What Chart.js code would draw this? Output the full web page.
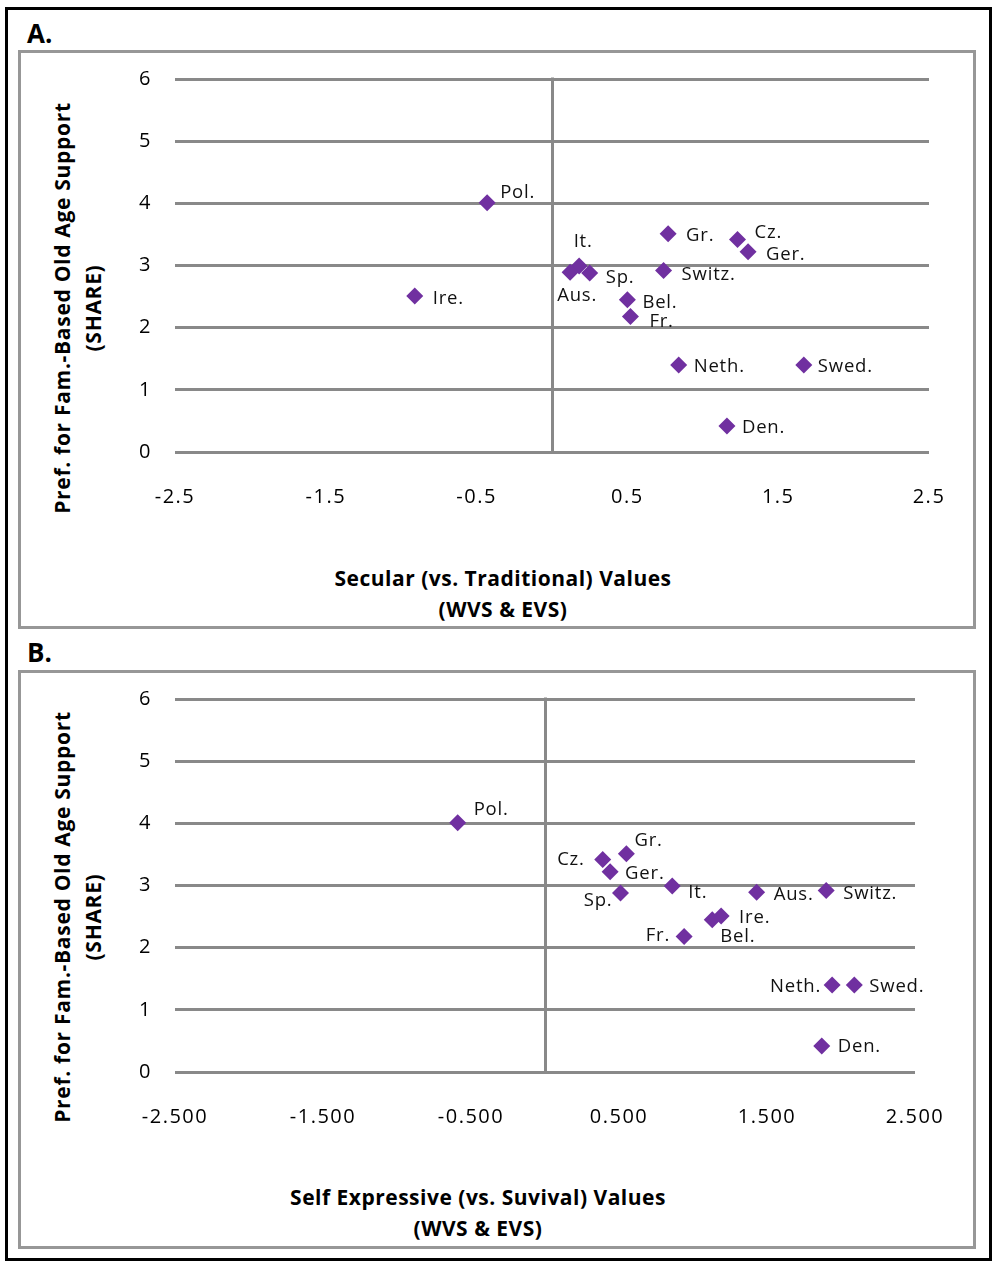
<!DOCTYPE html>
<html>
<head>
<meta charset="utf-8">
<script src="https://cdn.jsdelivr.net/npm/chart.js@4/dist/chart.umd.min.js"></script>
<style>
  html, body { margin: 0; padding: 0; background: #fff; }
  body { width: 993px; height: 1262px; position: relative; overflow: hidden; font-family: "Open Sans", sans-serif; color: #000; }
  .frame { position: absolute; left: 5px; top: 7px; width: 981px; height: 1248px; border: 3px solid #000; }
  .panel { position: absolute; left: 18px; width: 952px; height: 573px; border: 3px solid #979797; }
  .letter { position: absolute; left: 27px; font-size: 26px; line-height: 26px; font-weight: 700; }
  .xtitle { position: absolute; width: 440px; text-align: center; font-size: 21px; line-height: 31px; font-weight: 700; letter-spacing: 0.5px; white-space: nowrap; }
  .ytitle { position: absolute; left: -152.5px; width: 460px; height: 62px; text-align: center; font-size: 21px; line-height: 31px; font-weight: 700; letter-spacing: 0.7px; white-space: nowrap; transform: rotate(-90deg); transform-origin: 50% 50%; }
  canvas { position: absolute; left: 0; }
</style>
</head>
<body>
<div class="frame"></div>
<div class="letter" style="top:20px">A.</div>
<div class="panel" style="top:50px"></div>
<div class="letter" style="top:639px">B.</div>
<div class="panel" style="top:670px"></div>

<div class="ytitle" style="top:277px">Pref. for Fam.-Based Old Age Support<br>(SHARE)</div>
<div class="xtitle" style="left:283px; top:562.5px">Secular (vs. Traditional) Values<br>(WVS &amp; EVS)</div>

<div class="ytitle" style="top:886px">Pref. for Fam.-Based Old Age Support<br>(SHARE)</div>
<div class="xtitle" style="left:258px; top:1181.5px">Self Expressive (vs. Suvival) Values<br>(WVS &amp; EVS)</div>

<canvas id="chartA" width="993" height="630" style="top:0"></canvas>
<canvas id="chartB" width="993" height="630" style="top:630px"></canvas>

<script>
// Countries in the SHARE sample
const countries = ['Pol.', 'Ire.', 'It.', 'Aus.', 'Sp.', 'Gr.', 'Cz.', 'Ger.', 'Switz.', 'Bel.', 'Fr.', 'Neth.', 'Swed.', 'Den.'];

// Preference for family-based old age support (SHARE)
const famSupportPref = [4.01, 2.51, 2.99, 2.89, 2.88, 3.51, 3.42, 3.22, 2.92, 2.45, 2.18, 1.40, 1.40, 0.42];

// Secular (vs. traditional) values, WVS & EVS
const secularValues = [-0.43, -0.91, 0.18, 0.12, 0.25, 0.77, 1.23, 1.30, 0.74, 0.50, 0.52, 0.84, 1.67, 1.16];

// Self-expressive (vs. survival) values, WVS & EVS
const selfExprValues = [-0.59, 1.19, 0.86, 1.43, 0.51, 0.55, 0.39, 0.44, 1.90, 1.13, 0.94, 1.94, 2.09, 1.87];

// Axis ticks
const xTickValues = [-2.5, -1.5, -0.5, 0.5, 1.5, 2.5];
const xTickLabelsA = ['-2.5', '-1.5', '-0.5', '0.5', '1.5', '2.5'];
const xTickLabelsB = ['-2.500', '-1.500', '-0.500', '0.500', '1.500', '2.500'];
const yTickValues = [0, 1, 2, 3, 4, 5, 6];
const yTickLabels = ['0', '1', '2', '3', '4', '5', '6'];

// Where each point label sits: [align, dx, dy] relative to its marker
const labelPlacementA = {
  'Pol.': ['left', 13, -10], 'Ire.': ['left', 18, 3], 'It.': ['center', 4, -24], 'Aus.': ['center', 7, 23],
  'Sp.': ['left', 16, 5], 'Gr.': ['left', 18, 2], 'Cz.': ['left', 17, -7], 'Ger.': ['left', 18, 3],
  'Switz.': ['left', 18, 4], 'Bel.': ['left', 15, 3], 'Fr.': ['left', 19, 5], 'Neth.': ['left', 15, 2],
  'Swed.': ['left', 14, 2], 'Den.': ['left', 15, 2]
};
const labelPlacementB = {
  'Pol.': ['left', 16, -13], 'Ire.': ['left', 18, 2], 'It.': ['left', 16, 7], 'Aus.': ['left', 17, 2],
  'Sp.': ['right', -8, 8], 'Gr.': ['left', 8, -13], 'Cz.': ['right', -18, 0], 'Ger.': ['left', 15, 2],
  'Switz.': ['left', 17, 3], 'Bel.': ['left', 8, 17], 'Fr.': ['right', -14, -1], 'Neth.': ['right', -11, 2],
  'Swed.': ['left', 15, 2], 'Den.': ['left', 16, 1]
};

const GRID = '#898989';
const MARKER = '#7030A0';

// Wider tracking for the axis numbers
const tracking = {
  id: 'tracking',
  beforeDraw(chart) { chart.ctx.letterSpacing = '1.5px'; }
};

// Vertical axis line where x = 0
const zeroLine = {
  id: 'zeroLine',
  beforeDatasetsDraw(chart) {
    const ctx = chart.ctx;
    const x = Math.round(chart.scales.x.getPixelForValue(0)) + 0.5;
    const { top, bottom } = chart.chartArea;
    ctx.save();
    ctx.strokeStyle = GRID;
    ctx.lineWidth = 3;
    ctx.beginPath();
    ctx.moveTo(x, top - 1.5);
    ctx.lineTo(x, bottom + 1.5);
    ctx.stroke();
    ctx.restore();
  }
};

// Country names next to the markers
const pointLabels = {
  id: 'pointLabels',
  afterDatasetsDraw(chart, args, opts) {
    const ctx = chart.ctx;
    const meta = chart.getDatasetMeta(0);
    ctx.save();
    ctx.font = '18.5px "Open Sans"';
    ctx.letterSpacing = '0.8px';
    ctx.fillStyle = '#111';
    ctx.textBaseline = 'middle';
    meta.data.forEach((pt, i) => {
      const name = chart.data.labels[i];
      const [align, dx, dy] = opts.placement[name];
      ctx.textAlign = align;
      ctx.fillText(name, pt.x + dx, pt.y + dy);
    });
    ctx.restore();
  }
};

function makeChart(id, xValues, xTickLabels, placement, pad) {
  const font = { family: '"Open Sans"', size: 20 };
  return new Chart(document.getElementById(id), {
    type: 'scatter',
    data: {
      labels: countries,
      datasets: [{
        data: xValues.map((x, i) => ({ x: x, y: famSupportPref[i] })),
        pointStyle: 'rectRot',
        pointRadius: 8.5,
        pointBackgroundColor: MARKER,
        pointBorderWidth: 0,
        pointBorderColor: MARKER
      }]
    },
    options: {
      responsive: false,
      animation: false,
      devicePixelRatio: 1,
      layout: { padding: pad },
      plugins: {
        legend: { display: false },
        tooltip: { enabled: false },
        pointLabels: { placement: placement }
      },
      scales: {
        x: {
          type: 'linear',
          min: -2.5,
          max: 2.5,
          afterBuildTicks: s => { s.ticks = xTickValues.map(v => ({ value: v })); },
          afterFit: s => { s.height = 60; },
          ticks: {
            font: font, color: '#000', padding: 33, maxRotation: 0, autoSkip: false,
            callback: (v, i) => xTickLabels[i]
          },
          grid: { display: false, drawTicks: false },
          border: { display: false }
        },
        y: {
          type: 'linear',
          min: 0,
          max: 6,
          afterBuildTicks: s => { s.ticks = yTickValues.map(v => ({ value: v })); },
          afterFit: s => { s.width = 60; },
          ticks: {
            font: font, color: '#000', padding: 23,
            callback: (v, i) => yTickLabels[i]
          },
          grid: { color: GRID, lineWidth: 3, drawTicks: false },
          border: { display: false }
        }
      }
    },
    plugins: [tracking, zeroLine, pointLabels]
  });
}

makeChart('chartA', secularValues, xTickLabelsA, labelPlacementA, { left: 115, right: 64, top: 79, bottom: 118 });
makeChart('chartB', selfExprValues, xTickLabelsB, labelPlacementB, { left: 115, right: 78, top: 69, bottom: 128 });
</script>
</body>
</html>
